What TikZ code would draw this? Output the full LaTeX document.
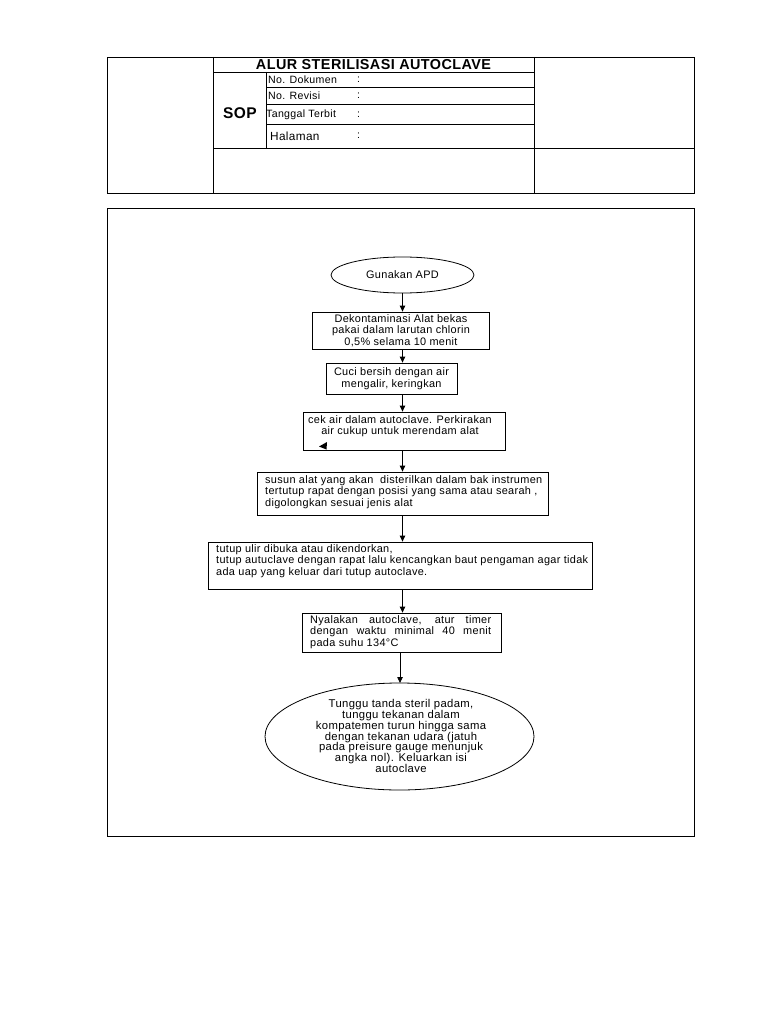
\documentclass[tikz,border=0pt]{standalone}
\usepackage{fontspec}
\setmainfont{Liberation Sans}[LetterSpace=3]
\usetikzlibrary{shapes.geometric,arrows.meta}
\begin{document}
\begin{tikzpicture}[x=1pt,y=-1pt,
  frame/.style={line width=0.8pt},
  box/.style={draw, rectangle, line width=0.8pt, inner sep=0pt},
  oval/.style={draw, ellipse, line width=0.8pt, inner sep=0pt},
  txt/.style={inner sep=0pt, font=\fontsize{10.9}{11.6}\selectfont},
  hdr/.style={inner sep=0pt, font=\fontsize{10.6}{12}\selectfont, anchor=west},
  arr/.style={-{Triangle[length=6pt,width=5.5pt]}, line width=0.8pt}]
\useasboundingbox (0,0) rectangle (768,1024);
\fill[white] (0,0) rectangle (768,1024);
% ---- header table ----
\draw[frame] (107,57) rectangle (694,193);
\draw[frame] (213,57) -- (213,193);
\draw[frame] (534,57) -- (534,193);
\draw[frame] (213,72) -- (534,72);
\draw[frame] (266,72) -- (266,148);
\draw[frame] (266,87) -- (534,87);
\draw[frame] (266,104) -- (534,104);
\draw[frame] (266,124.5) -- (534,124.5);
\draw[frame] (213,148) -- (694,148);
\node[inner sep=0pt, font=\fontsize{14.4}{16}\selectfont\bfseries] (title) at (373.5,65) {ALUR STERILISASI AUTOCLAVE};
\node[inner sep=0pt, font=\fontsize{15.5}{17}\selectfont\bfseries] (sop) at (240,113) {SOP};
\node[hdr] (l1) at (268,80) {No. Dokumen};
\node[hdr] (l2) at (268,96) {No. Revisi};
\node[hdr] (l3) at (266,115) {Tanggal Terbit};
\node[hdr, font=\fontsize{11.8}{13}\selectfont] (l4) at (270,136) {Halaman};
\node[hdr] (c1) at (357,80) {:};
\node[hdr] (c2) at (357,96) {:};
\node[hdr] (c3) at (357,115) {:};
\node[hdr] (c4) at (357,136) {:};
% ---- main frame ----
\draw[frame] (107,208) rectangle (694,836);
% ---- flowchart ----
\coordinate (ax) at (402.5,0);
\node[oval, txt, minimum width=143pt, minimum height=36pt] (e1) at (402.5,275) {Gunakan APD};
\node[box, txt, align=center, minimum width=177pt, minimum height=37pt] (b2) at (401,330.5)
  {Dekontaminasi Alat bekas\\pakai dalam larutan chlorin\\0,5\% selama 10 menit};
\node[box, txt, align=center, minimum width=131pt, minimum height=31pt] (b3) at (391.5,378.5)
  {Cuci bersih dengan air\\mengalir, keringkan};
\node[box, minimum width=202pt, minimum height=38pt] (b4) at (404,431) {};
\node[txt, align=center] (t4) at (400,426) {cek air dalam autoclave. Perkirakan\\air cukup untuk merendam alat};
\fill (319,446.5) -- (327,442) -- (326.5,449.5) -- cycle;
\node[box, minimum width=291pt, minimum height=43pt] (b5) at (402.5,493.5) {};
\node[txt, align=left, anchor=west] (t5) at (265,492) {susun alat yang akan\ \ disterilkan dalam bak instrumen\\tertutup rapat dengan posisi yang sama atau searah ,\\digolongkan sesuai jenis alat};
\node[box, minimum width=384pt, minimum height=47pt] (b6) at (400,565.5) {};
\node[txt, align=left, anchor=west] (t6) at (216,561) {tutup ulir dibuka atau dikendorkan,\\tutup autuclave dengan rapat lalu kencangkan baut pengaman agar tidak\\ada uap yang keluar dari tutup autoclave.};
\node[box, minimum width=199pt, minimum height=39pt] (b7) at (401.5,632.5) {};
\node[txt, align=left, anchor=west] (t7) at (310,632) {\makebox[181pt][s]{Nyalakan autoclave, atur timer}\\\makebox[181pt][s]{dengan waktu minimal 40 menit}\\pada suhu 134°C};
\node[oval, minimum width=269pt, minimum height=107pt] (e8) at (399.5,736.5) {};
\node[txt, align=center, font=\fontsize{11.3}{10.9}\selectfont] (t8) at (401,736) {Tunggu tanda steril padam,\\tunggu tekanan dalam\\kompatemen turun hingga sama\\dengan tekanan udara (jatuh\\pada preisure gauge menunjuk\\angka nol). Keluarkan isi\\autoclave};
% ---- connectors ----
\draw[arr] (ax |- e1.south) -- (ax |- b2.north);
\draw[arr] (ax |- b2.south) -- (ax |- b3.north);
\draw[arr] (ax |- b3.south) -- (ax |- b4.north);
\draw[arr] (ax |- b4.south) -- (ax |- b5.north);
\draw[arr] (ax |- b5.south) -- (ax |- b6.north);
\draw[arr] (ax |- b6.south) -- (ax |- b7.north);
\draw[arr] (400,652) -- (400,683);
\end{tikzpicture}
\end{document}
